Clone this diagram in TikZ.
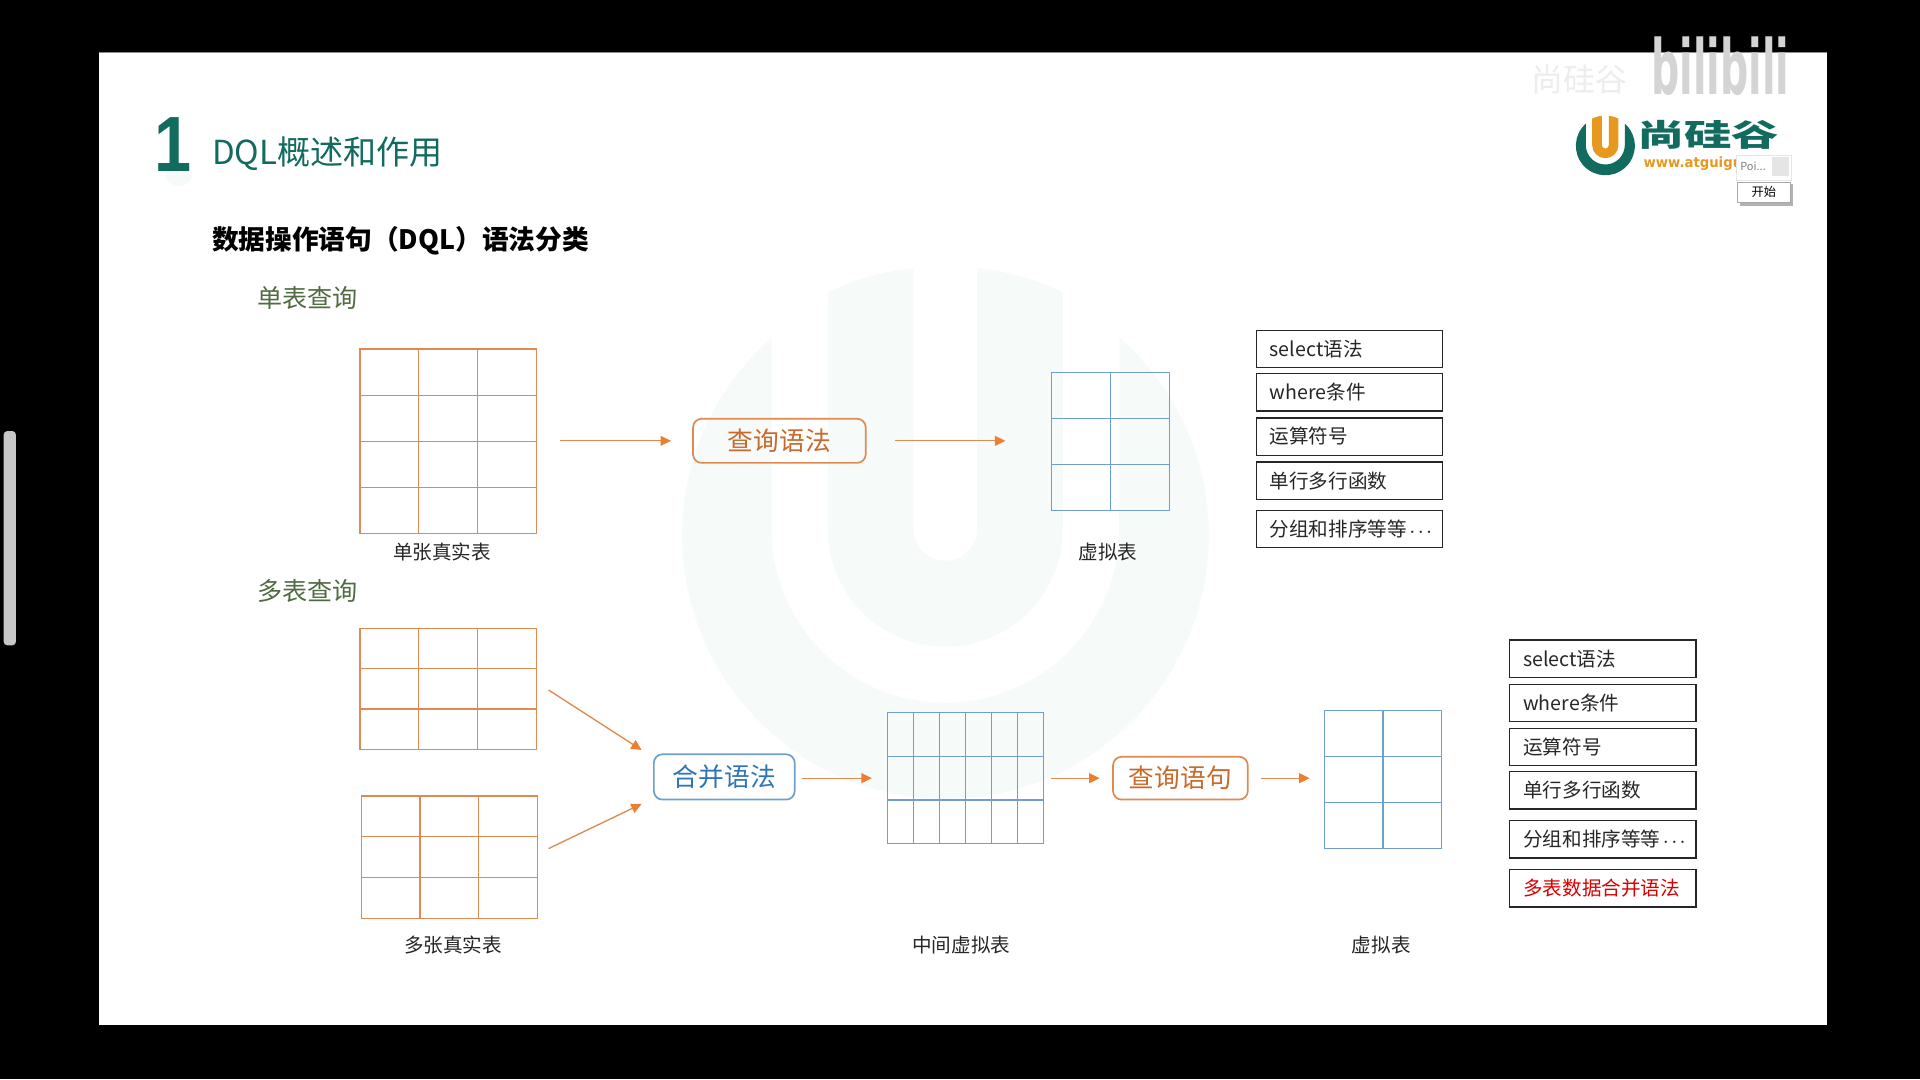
\documentclass[tikz,border=0pt]{standalone}
\usepackage{fontspec}
\usepackage{xcolor}
\setmainfont{Noto Sans CJK SC}
\newfontfamily\latinbold{DejaVu Sans Bold}
\newfontfamily\numfont{Liberation Sans Bold}
\usetikzlibrary{arrows.meta, calc, shapes, positioning}

\definecolor{slidegreen}{HTML}{126B5F}
\definecolor{headgreen}{HTML}{4F6B3F}
\definecolor{tblorange}{HTML}{E08A52}
\definecolor{tblblue}{HTML}{6F9FD0}
\definecolor{flowtip}{HTML}{ED7D31}
\definecolor{boxblue}{HTML}{2E75B6}
\definecolor{markpale}{HTML}{F6FAF9}
\definecolor{logoorange}{HTML}{E6981F}

\newcommand{\tinydots}{{\fontsize{9}{12}\selectfont ·\kern-2.2pt·\kern-2.2pt·}}

\tikzset{
  flow/.style={draw=tblorange, line width=1.1pt, -{Triangle[length=8.5pt,width=8pt,color=flowtip]}},
  gridtbl/.style={draw, line width=1pt, inner sep=0pt, outer sep=0pt},
  caption/.style={font=\fontsize{16}{18}\selectfont, text=black!85},
  sidebox/.style={draw=black!85, line width=1.1pt, fill=white, minimum height=30.5pt, text width=130pt,
    inner xsep=11pt, inner ysep=0pt, outer sep=0pt, align=left, font=\fontsize{16}{18}\selectfont, text=black!85},
  syntaxbox/.style={draw, rounded corners=7pt, line width=1.4pt, inner sep=0pt, outer sep=0pt,
    font=\fontsize{21}{26}\selectfont},
  subhead/.style={font=\fontsize{20.5}{24}\selectfont, text=headgreen, anchor=west},
  umark/.pic={
    \fill[pic actions] (-142,-161) arc[start angle=131.4, end angle=408.6, radius=215pt]
      -- (142,-5) arc[start angle=0, end angle=-180, radius=142pt] -- cycle;
  },
  uinner/.pic={
    \fill[pic actions] (-96,-5) -- (-96,-198) .. controls (-72,-210) and (-50,-215) .. (-26,-218) -- (-26,-5)
      arc[start angle=180, end angle=360, radius=26pt] -- (26,-218)
      .. controls (50,-215) and (72,-210) .. (96,-198) -- (96,-5)
      arc[start angle=0, end angle=-180, radius=96pt] -- cycle;
  }
}

% inner lines of a table node: name, columns, rows, colour
\newcommand{\tablelines}[4]{
  \foreach \i in {1,...,\numexpr#2-1\relax}{
    \pgfmathsetmacro{\f}{\i/#2}
    \draw[#4, line width=1pt] ($(#1.north west)!\f!(#1.north east)$) -- ($(#1.south west)!\f!(#1.south east)$);
  }
  \foreach \i in {1,...,\numexpr#3-1\relax}{
    \pgfmathsetmacro{\f}{\i/#3}
    \draw[#4, line width=1pt] ($(#1.north west)!\f!(#1.south west)$) -- ($(#1.north east)!\f!(#1.south east)$);
  }
}

\begin{document}
\begin{tikzpicture}[x=1pt, y=-1pt]
  \useasboundingbox (0,0) rectangle (1568,881.2);
  \fill[black] (0,0) rectangle (1568,881.2);
  \fill[white] (81,43) rectangle (1492,837);
  \draw[black!45, line width=.8pt] (81,43.2) -- (1492,43.2);
  \fill[black!22, rounded corners=3pt] (3,352) rectangle (13,527);

  % watermark
  \pic[fill=markpale] at (772,437) {umark};
  \pic[fill=markpale] at (772,437) {uinner};

  % top right corner
  \node[text=black!7, font=\fontsize{26}{30}\selectfont] at (1290,65) (wmtext) {尚硅谷};
  \node[text=black!17, font=\latinbold\fontsize{62}{70}\selectfont, xscale=.52] at (1405,54) (wmbili) {bilibili};
  \pic[fill=slidegreen, scale=.112] at (1311,119) {umark};
  \pic[fill=logoorange, scale=.112] at (1311,119) {uinner};
  \node[text=slidegreen, font=\bfseries\fontsize{25}{28}\selectfont, xscale=1.55] at (1395,110.5) (logotext) {尚硅谷};
  \node[text=logoorange, font=\latinbold\fontsize{11.5}{13}\selectfont, xscale=.94, anchor=west] at (1339,134) (logourl) {www.atguigu};
  \node[draw=black!10, fill=white, minimum width=45pt, minimum height=20pt, inner sep=0pt] at (1440.5,137) (popup) {};
  \node[fill=black!10, minimum width=14pt, minimum height=16pt, inner sep=0pt] at (1454,136) (popsq) {};
  \node[text=black!50, font=\fontsize{9}{10}\selectfont, anchor=west, inner sep=0pt] at (1421,136) (popname) {Poi...};
  \fill[black!30] (1421,150) rectangle (1464,168);
  \node[draw=black!35, fill=white, minimum width=43pt, minimum height=17pt, inner sep=0pt, font=\fontsize{10}{12}\selectfont] at (1440.5,157) (popbtn) {开始};

  % titles
  \fill[markpale] (146,142) ellipse (11pt and 10pt);
  \node[text=slidegreen, font=\numfont\fontsize{64}{70}\selectfont, xscale=.85] at (141,118) (num) {1};
  \node[text=slidegreen, font=\fontsize{27}{32}\selectfont, anchor=west, inner sep=0pt] at (173,125.5) (title) {DQL概述和作用};
  \node[text=black, font=\bfseries\fontsize{21.8}{26}\selectfont, anchor=west, inner sep=0pt] at (173,196.5) (head) {数据操作语句（DQL）语法分类};
  \node[subhead, inner sep=0pt] at (210,243) (single) {单表查询};
  \node[subhead, inner sep=0pt] at (210,483) (multi) {多表查询};

  % single table query
  \node[gridtbl, draw=tblorange, minimum width=144pt, minimum height=151pt] at (366,360.5) (tblA) {};
  \tablelines{tblA}{3}{4}{tblorange}
  \node[syntaxbox, draw=tblorange, text=flowtip!85!black, minimum width=141pt, minimum height=36pt] at (636.5,360) (query) {查询语法};
  \node[gridtbl, draw=tblblue, minimum width=96pt, minimum height=113pt] at (907,360.5) (virtA) {};
  \tablelines{virtA}{2}{3}{tblblue}

  \node[caption] at (361,451) (capA) {单张真实表};
  \node[caption] at (905,451) (capB) {虚拟表};

  \draw[flow, shorten <=19pt, shorten >=18pt] (tblA.east |- query) -- (query.west);
  \draw[flow, shorten <=24pt, shorten >=38pt] (query.east) -- (query -| virtA.west);

  \node[sidebox] at (1102,285) (s1) {select语法};
  \node[sidebox] at (1102,320.5) (s2) {where条件};
  \node[sidebox] at (1102,356.5) (s3) {运算符号};
  \node[sidebox] at (1102,392.5) (s4) {单行多行函数};
  \node[sidebox] at (1102,432) (s5) {分组和排序等等\tinydots};

  % multi table query
  \node[gridtbl, draw=tblorange, minimum width=144pt, minimum height=99pt] at (366,562.5) (tblB) {};
  \tablelines{tblB}{3}{3}{tblorange}
  \node[gridtbl, draw=tblorange, minimum width=144pt, minimum height=100pt] at (367,700) (tblC) {};
  \tablelines{tblC}{3}{3}{tblorange}
  \node[syntaxbox, draw=tblblue, text=boxblue, minimum width=115pt, minimum height=37pt] at (591.5,634.5) (merge) {合并语法};
  \node[gridtbl, draw=tblblue, minimum width=127pt, minimum height=107pt] at (788.5,635.5) (mid) {};
  \tablelines{mid}{6}{3}{tblblue}
  \node[syntaxbox, draw=tblorange, text=flowtip!85!black, minimum width=110pt, minimum height=35pt] at (964,635.5) (stmt) {查询语句};
  \node[gridtbl, draw=tblblue, minimum width=96pt, minimum height=113pt] at (1129.5,636.5) (virtB) {};
  \tablelines{virtB}{2}{3}{tblblue}

  \node[caption] at (370,772) (capC) {多张真实表};
  \node[caption] at (785,772) (capD) {中间虚拟表};
  \node[caption] at (1128,772) (capE) {虚拟表};

  \draw[flow] ([shift={(10,1)}]tblB.east) -- ([shift={(-10,-22)}]merge.west);
  \draw[flow] ([shift={(9,-7)}]tblC.east) -- ([shift={(-10,22)}]merge.west);
  \draw[flow, shorten <=6pt, shorten >=13pt] (mid.west -| merge.east) -- (mid.west);
  \draw[flow, shorten <=6pt, shorten >=11pt] (mid.east) -- (mid.east -| stmt.west);
  \draw[flow, shorten <=11pt, shorten >=12pt] (stmt.east) -- (stmt -| virtB.west);

  \node[sidebox] at (1309,538) (t1) {select语法};
  \node[sidebox] at (1309,574) (t2) {where条件};
  \node[sidebox] at (1309,610) (t3) {运算符号};
  \node[sidebox] at (1309,645.5) (t4) {单行多行函数};
  \node[sidebox] at (1309,685.5) (t5) {分组和排序等等\tinydots};
  \node[sidebox, text=red!85!black] at (1309,725.5) (t6) {多表数据合并语法};
\end{tikzpicture}
\end{document}
